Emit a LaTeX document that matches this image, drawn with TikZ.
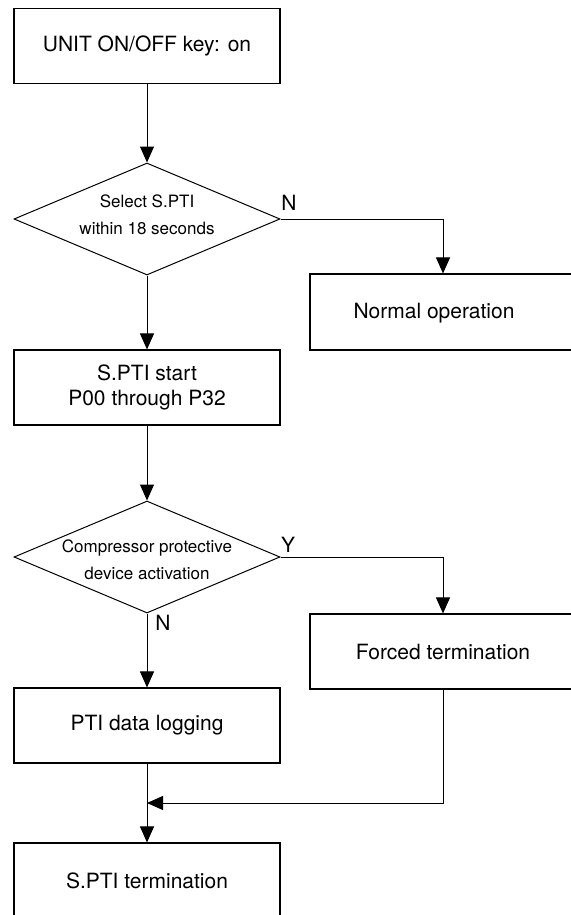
\documentclass[tikz,border=0pt]{standalone}
\usepackage{fontspec}
\setmainfont{TeX Gyre Heros}
\usetikzlibrary{shapes.geometric,arrows.meta}
\begin{document}
\begin{tikzpicture}[x=1pt,y=-1pt,
  box/.style={draw,line width=1.1pt,minimum width=266pt,minimum height=75pt,inner sep=0pt,align=center,font=\fontsize{21}{25}\selectfont},
  dia/.style={draw,diamond,line width=1pt,minimum width=266pt,minimum height=112pt,inner sep=0pt},
  dtext/.style={align=center,font=\fontsize{17}{26.5}\selectfont},
  lbl/.style={font=\fontsize{21}{25}\selectfont,inner sep=0pt},
  arr/.style={line width=1pt,-{Triangle[width=14pt,length=16pt]}},
  ln/.style={line width=1pt}]
\useasboundingbox (0,0) rectangle (570,915);
\node[box] (b1) at (147,46) {UNIT ON/OFF key: on};
\node[dia] (d1) at (147,219) {};
\node[dtext] (d1t) at (147,215) {Select S.PTI\\within 18 seconds};
\node[box,minimum width=266pt,minimum height=76pt] (n1) at (443,312) {};
\node[lbl] (n1t) at (434,313) {Normal operation};
\node[box] (b2) at (147,387.5) {S.PTI start\\P00 through P32};
\node[dia] (d2) at (147,557) {};
\node[dtext] (d2t) at (147,560) {Compressor protective\\device activation};
\node[box] (f) at (443,651.5) {Forced termination};
\node[box] (b3) at (147,725.5) {PTI data logging};
\node[box] (b4) at (147,880.5) {S.PTI termination};
\node[lbl] (lN1) at (289,203) {N};
\node[lbl] (lY) at (288,545) {Y};
\node[lbl] (lN2) at (163,623) {N};
\coordinate (j) at (147,803);
\draw[arr] (b1.south) -- (d1.north);
\draw[arr] (d1.east) -| (n1.north);
\draw[arr] (d1.south) -- (b2.north);
\draw[arr] (b2.south) -- (d2.north);
\draw[arr] (d2.east) -| (f.north);
\draw[arr] (d2.south) -- (b3.north);
\draw[arr] (b3.south) -- (b4.north);
\draw[arr] (f.south) |- (j);
\end{tikzpicture}
\end{document}
